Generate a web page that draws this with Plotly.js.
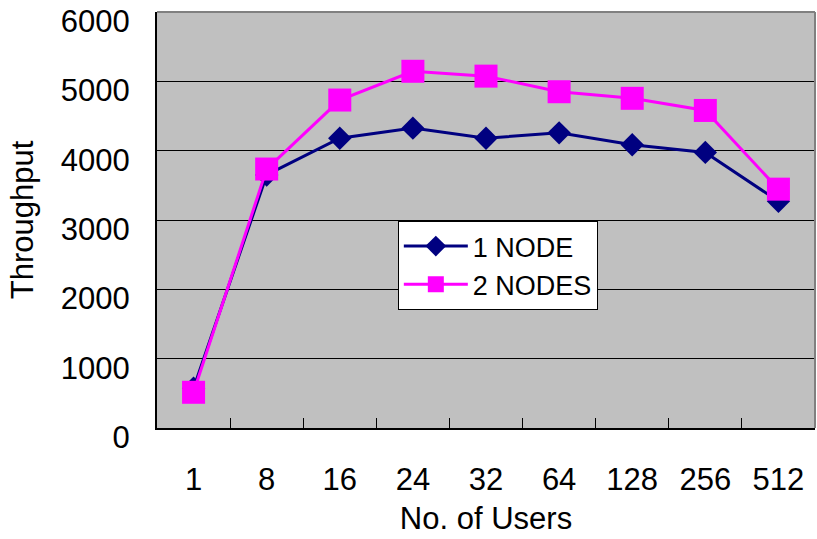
<!DOCTYPE html>
<html>
<head>
<meta charset="utf-8">
<script src="https://cdn.plot.ly/plotly-3.0.1.min.js"></script>
<style>html,body{margin:0;padding:0;background:#fff;}#chart{width:817px;height:539px;}</style>
</head>
<body>
<div id="chart"></div>
<script>
var users = ["1", "8", "16", "24", "32", "64", "128", "256", "512"];
var oneNode = [575, 3650, 4180, 4325, 4180, 4257, 4085, 3975, 3270];
var twoNodes = [515, 3735, 4730, 5145, 5075, 4850, 4755, 4580, 3445];
var yTicks = [0, 1000, 2000, 3000, 4000, 5000, 6000];

var FONT = "Liberation Sans, Arial, sans-serif";

var traces = [
  {
    x: users, y: oneNode, name: "1 NODE", type: "scatter", mode: "lines+markers",
    line: {color: "#000080", width: 3},
    marker: {symbol: "diamond", size: 18, color: "#000080"}
  },
  {
    x: users, y: twoNodes, name: "2 NODES", type: "scatter", mode: "lines+markers",
    line: {color: "#FF00FF", width: 3},
    marker: {symbol: "square", size: 23, color: "#FF00FF"}
  }
];

var layout = {
  width: 817, height: 539,
  margin: {l: 157, r: 2, t: 12, b: 111, pad: 0},
  paper_bgcolor: "#ffffff",
  plot_bgcolor: "#C0C0C0",
  font: {family: FONT, size: 31, color: "#000"},
  showlegend: true,
  legend: {
    x: 0.366, y: 0.4976, xanchor: "left", yanchor: "top",
    bgcolor: "#ffffff", bordercolor: "#000", borderwidth: 1,
    font: {family: FONT, size: 27, color: "#000"},
    itemwidth: 64, tracegroupgap: 0
  },
  xaxis: {
    type: "category",
    range: [-0.5, 8.5],
    showgrid: false, zeroline: false,
    showline: true, linecolor: "#000", linewidth: 2,
    ticks: "inside", ticklen: 10, tickcolor: "#000", tickwidth: 1,
    tickson: "boundaries",
    ticklabelstandoff: 23,
    tickfont: {family: FONT, size: 31, color: "#000"},
    title: {text: "No. of Users", font: {family: FONT, size: 31, color: "#000"}, standoff: 11},
    fixedrange: true
  },
  yaxis: {
    range: [0, 6000],
    tickvals: yTicks,
    ticktext: yTicks.map(String),
    showgrid: true, gridcolor: "#000", gridwidth: 1,
    zeroline: false,
    showline: true, linecolor: "#000", linewidth: 2,
    ticks: "inside", ticklen: 10, tickcolor: "#000", tickwidth: 1,
    ticklabelstandoff: 19,
    ticklabelshift: 9,
    tickfont: {family: FONT, size: 31, color: "#000"},
    title: {text: "Throughput", font: {family: FONT, size: 31, color: "#000"}, standoff: 18},
    fixedrange: true
  },
  shapes: [
    {type: "line", xref: "paper", yref: "paper", x0: 0, x1: 1, y0: 1, y1: 1, line: {color: "#808080", width: 2}},
    {type: "line", xref: "paper", yref: "paper", x0: 1, x1: 1, y0: 0, y1: 1, line: {color: "#808080", width: 2}}
  ]
};

Plotly.newPlot("chart", traces, layout, {displayModeBar: false, staticPlot: true});
</script>
</body>
</html>
